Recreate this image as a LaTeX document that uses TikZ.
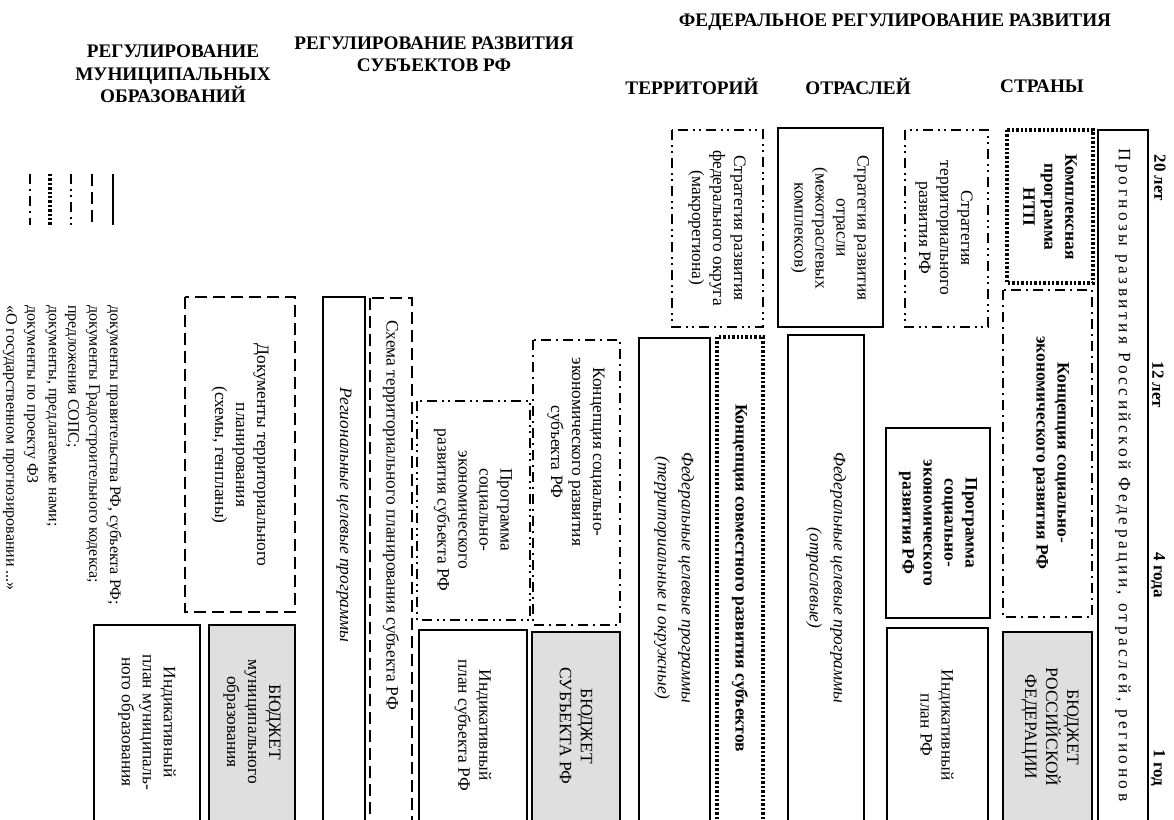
\documentclass[tikz,border=0pt]{standalone}
\usepackage{fontspec}
\setmainfont{Liberation Serif}
\newfontfamily\spacedfont[LetterSpace=20]{Liberation Serif}

\tikzset{
  govline/.style={line width=1pt},
  gradline/.style={line width=1pt, dash pattern=on 6pt off 3pt},
  sopsline/.style={line width=1pt, dash pattern=on 5pt off 2.5pt on 1pt off 2pt on 1pt off 2.5pt},
  ourline/.style={line width=1.6pt, dash pattern=on 1.2pt off 1pt},
  fzline/.style={line width=1pt, dash pattern=on 5pt off 2.5pt on 1pt off 2.5pt},
  budget/.style={govline, fill=gray!25},
  vtext/.style={rotate=-90, align=center, inner sep=0pt, font=\fontsize{8.7}{10.5}\selectfont},
  vbold/.style={vtext, font=\fontsize{8.7}{10.5}\selectfont\bfseries},
  vital/.style={vtext, font=\fontsize{8.7}{12}\selectfont\itshape},
  heading/.style={align=center, inner sep=0pt, font=\fontsize{9.6}{11.2}\selectfont\bfseries},
  years/.style={rotate=-90, inner sep=0pt, font=\fontsize{8.5}{10}\selectfont\bfseries},
  legtext/.style={rotate=-90, anchor=west, inner sep=0pt, font=\fontsize{8}{9.6}\selectfont},
}

\begin{document}
\begin{tikzpicture}[x=0.5pt, y=-0.5pt]
  \useasboundingbox (0,0) rectangle (1174,820);
  \clip (0,0) rectangle (1174,820);

  % headings
  \node[heading] (hmun) at (173,74) {РЕГУЛИРОВАНИЕ\\МУНИЦИПАЛЬНЫХ\\ОБРАЗОВАНИЙ};
  \node[heading] (hsubj) at (434,54) {РЕГУЛИРОВАНИЕ РАЗВИТИЯ\\СУБЪЕКТОВ РФ};
  \node[heading] (hfed) at (895,22) {ФЕДЕРАЛЬНОЕ РЕГУЛИРОВАНИЕ РАЗВИТИЯ};
  \node[heading] (hterr) at (692,86) {ТЕРРИТОРИЙ};
  \node[heading] (hotr) at (858,86) {ОТРАСЛЕЙ};
  \node[heading] (hstr) at (1042,86) {СТРАНЫ};

  % time scale
  \node[years] (y20) at (1160,178) {20 лет};
  \node[years] (y12) at (1158,385) {12 лет};
  \node[years] (y4) at (1158,575) {4 года};
  \node[years] (y1) at (1158,768) {1 год};

  % country
  \draw[govline] (1098,130) rectangle (1148,830);
  \node[vtext, font=\fontsize{8.7}{10.5}\spacedfont] (prognoz) at (1123,475) {Прогнозы развития Российской Федерации, отраслей, регионов};
  \draw[ourline] (1007,130) rectangle (1093,283);
  \node[vbold] (ntp) at (1050,207) {Комплексная\\программа\\НТП};
  \draw[fzline] (1003,290) rectangle (1092,617);
  \node[vbold] (koncrf) at (1051,453) {Концепция социально-\\экономического развития РФ};
  \draw[budget] (1003,632) rectangle (1092,830);
  \node[vtext] (budrf) at (1050,727) {БЮДЖЕТ\\РОССИЙСКОЙ\\ФЕДЕРАЦИИ};
  \draw[sopsline] (905,130) rectangle (988,327);
  \node[vtext] (strterrrf) at (944,228) {Стратегия\\территориального\\развития РФ};
  \draw[govline] (886,428) rectangle (990,618);
  \node[vbold] (progrf) at (938,523) {Программа\\социально-\\экономического\\развития РФ};
  \draw[govline] (887,628) rectangle (988,830);
  \node[vtext] (indrf) at (937,725) {Индикативный\\план РФ};

  % branches
  \draw[govline] (778,128) rectangle (883,327);
  \node[vtext] (strotr) at (830,228) {Стратегия развития\\отрасли\\(межотраслевых\\комплексов)};
  \draw[govline] (788,335) rectangle (864,830);
  \node[vital] (fcpotr) at (826,578) {Федеральные целевые программы\\(отраслевые)};

  % territories
  \draw[sopsline] (672,130) rectangle (763,327);
  \node[vtext] (strokr) at (717,228) {Стратегия развития\\федерального округа\\(макрорегиона)};
  \draw[ourline] (717,337) rectangle (763,830);
  \node[vbold] (koncsovm) at (740,578) {Концепция совместного развития субъектов};
  \draw[govline] (639,338) rectangle (710,830);
  \node[vital] (fcpterr) at (674,578) {Федеральные целевые программы\\(территориальные и окружные)};

  % subjects
  \draw[fzline] (533,340) rectangle (620,625);
  \node[vtext] (koncsubj) at (576,452) {Концепция социально-\\экономического развития\\субъекта РФ};
  \draw[sopsline] (417,401) rectangle (530,620);
  \node[vtext] (progsubj) at (473,510) {Программа\\социально-\\экономического\\развития субъекта РФ};
  \draw[budget] (532,632) rectangle (620,830);
  \node[vtext] (budsubj) at (576,726) {БЮДЖЕТ\\СУБЪЕКТА РФ};
  \draw[govline] (419,630) rectangle (527,830);
  \node[vtext] (indsubj) at (473,725) {Индикативный\\план субъекта РФ};
  \draw[gradline] (370,298) rectangle (412,830);
  \node[vtext] (schema) at (391,515) {Схема территориального планирования субъекта РФ};
  \draw[govline] (323,297) rectangle (365,830);
  \node[vital] (regprog) at (344,515) {Региональные целевые программы};

  % municipal
  \draw[gradline] (185,297) rectangle (295,612);
  \node[vtext] (docs) at (240,455) {Документы территориального\\планирования\\(схемы, генпланы)};
  \draw[budget] (209,625) rectangle (295,830);
  \node[vtext] (budmun) at (252,722) {БЮДЖЕТ\\муниципального\\образования};
  \draw[govline] (94,625) rectangle (200,830);
  \node[vtext] (indmun) at (147,722) {Индикативный\\план муниципаль-\\ного образования};

  % legend
  \draw[govline] (113,174) -- (113,225);
  \draw[gradline] (92,174) -- (92,225);
  \draw[sopsline] (71,174) -- (71,225);
  \draw[ourline] (50,174) -- (50,225);
  \draw[fzline] (30,174) -- (30,225);
  \node[legtext] (lgov) at (114,305) {документы правительства РФ, субъекта РФ;};
  \node[legtext] (lgrad) at (93,305) {документы Градостроительного кодекса;};
  \node[legtext] (lsops) at (72,305) {предложения СОПС;};
  \node[legtext] (lour) at (51,305) {документы, предлагаемые нами;};
  \node[legtext] (lfz) at (31,305) {документы по проекту ФЗ};
  \node[legtext] (lfz2) at (10,305) {«О государственном прогнозировании ...»};
\end{tikzpicture}
\end{document}
